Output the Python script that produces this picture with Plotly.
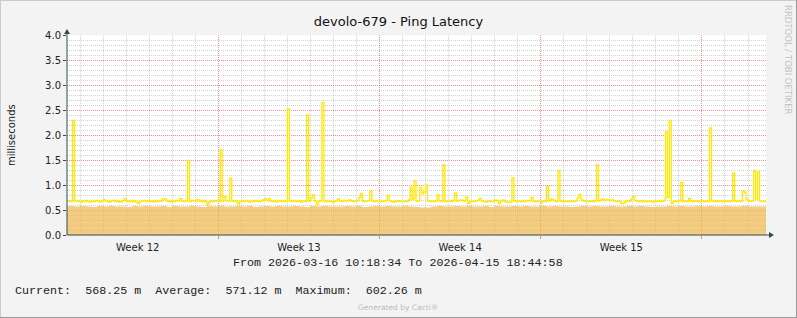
import plotly.graph_objects as go
import pandas as pd

# ---------------- data ----------------
TITLE = "devolo-679 - Ping Latency"
Y_TITLE = "milliseconds"
T_START = "2026-03-16 10:18:34"
T_END = "2026-04-15 18:44:58"
WEEK0 = "2026-03-16"          # Monday of ISO week 12

LINE_START = "2026-03-16 10:00"
LINE_STEP = "2h"
AREA_START = "2026-03-16 06:00"
AREA_STEP = "6h"

# yellow latency line, 2-hour samples, one row per day
lat_mar16 = [0.67, 0.68, 0.67, 2.29, 0.68, 0.69, 0.67]
lat_mar17 = [0.66, 0.68, 0.67, 0.69, 0.67, 0.66, 0.68, 0.67, 0.69, 0.68, 0.66, 0.68]
lat_mar18 = [0.71, 0.68, 0.67, 0.66, 0.68, 0.69, 0.67, 0.68, 0.66, 0.67, 0.69, 0.73]
lat_mar19 = [0.68, 0.67, 0.69, 0.67, 0.68, 0.66, 0.63, 0.67, 0.68, 0.69, 0.67, 0.68]
lat_mar20 = [0.67, 0.68, 0.66, 0.68, 0.67, 0.69, 0.68, 0.72, 0.72, 0.68, 0.67, 0.66]
lat_mar21 = [0.68, 0.67, 0.69, 0.68, 0.73, 0.68, 0.67, 0.68, 1.49, 0.67, 0.69, 0.68]
lat_mar22 = [0.68, 0.71, 0.68, 0.67, 0.69, 0.67, 0.61, 0.66, 0.68, 0.67, 0.69, 0.68]
lat_mar23 = [0.67, 1.70, 0.68, 0.77, 0.69, 0.68, 1.13, 0.68, 0.67, 0.68, 0.62, 0.67]
lat_mar24 = [0.68, 0.67, 0.69, 0.68, 0.66, 0.68, 0.67, 0.69, 0.68, 0.67, 0.68, 0.70]
lat_mar25 = [0.72, 0.69, 0.73, 0.68, 0.67, 0.68, 0.66, 0.68, 0.69, 0.67, 0.68, 0.67]
lat_mar26 = [2.52, 0.68, 0.67, 0.69, 0.68, 0.67, 0.68, 0.66, 0.68, 0.67, 2.40, 0.68]
lat_mar27 = [0.74, 0.80, 0.68, 0.61, 0.67, 0.68, 2.65, 0.68, 0.67, 0.68, 0.67, 0.66]
lat_mar28 = [0.67, 0.68, 0.72, 0.68, 0.67, 0.69, 0.68, 0.68, 0.70, 0.68, 0.67, 0.68]
lat_mar29 = [0.68, 0.74, 0.83, 0.68, 0.67, 0.68, 0.69, 0.88, 0.68, 0.67, 0.68, 0.67]
lat_mar30 = [0.68, 0.67, 0.68, 0.69, 0.79, 0.68, 0.67, 0.66, 0.68, 0.67, 0.68, 0.67]
lat_mar31 = [0.67, 0.68, 0.67, 0.70, 0.95, 0.72, 1.08, 0.68, 0.68, 0.95, 0.83, 0.86]
lat_apr01 = [1.00, 0.68, 0.67, 0.68, 0.67, 0.68, 0.80, 0.68, 0.67, 1.40, 0.67, 0.68]
lat_apr02 = [0.68, 0.67, 0.69, 0.84, 0.68, 0.69, 0.70, 0.69, 0.68, 0.76, 0.63, 0.67]
lat_apr03 = [0.68, 0.67, 0.68, 0.69, 0.73, 0.68, 0.67, 0.66, 0.67, 0.68, 0.67, 0.67]
lat_apr04 = [0.70, 0.68, 0.63, 0.68, 0.70, 0.67, 0.66, 0.65, 0.66, 1.14, 0.68, 0.67]
lat_apr05 = [0.68, 0.67, 0.68, 0.67, 0.68, 0.69, 0.68, 0.75, 0.68, 0.67, 0.68, 0.67]
lat_apr06 = [0.65, 0.68, 0.67, 0.97, 0.68, 0.72, 0.70, 0.68, 0.67, 1.29, 0.68, 0.67]
lat_apr07 = [0.68, 0.67, 0.68, 0.67, 0.68, 0.67, 0.68, 0.74, 0.81, 0.70, 0.68, 0.67]
lat_apr08 = [0.68, 0.67, 0.68, 0.67, 0.68, 1.40, 0.68, 0.70, 0.72, 0.69, 0.71, 0.70]
lat_apr09 = [0.69, 0.70, 0.68, 0.67, 0.68, 0.67, 0.63, 0.64, 0.68, 0.67, 0.68, 0.72]
lat_apr10 = [0.77, 0.69, 0.68, 0.67, 0.68, 0.67, 0.68, 0.67, 0.68, 0.67, 0.66, 0.68]
lat_apr11 = [0.67, 0.68, 0.67, 0.68, 0.69, 2.06, 0.75, 2.29, 0.63, 0.67, 0.68, 0.67]
lat_apr12 = [0.68, 1.05, 0.67, 0.68, 0.67, 0.73, 0.68, 0.67, 0.68, 0.67, 0.68, 0.67]
lat_apr13 = [0.68, 0.67, 0.68, 0.67, 2.14, 0.68, 0.67, 0.68, 0.67, 0.68, 0.67, 0.68]
lat_apr14 = [0.67, 0.68, 0.67, 0.68, 1.24, 0.68, 0.67, 0.68, 0.67, 0.88, 0.85, 0.72]
lat_apr15 = [0.68, 0.67, 0.68, 1.29, 0.72, 1.26, 0.68, 0.67, 0.68, 0.67, 0.68]

# orange area, 6-hour samples
area_values = [
    0.57, 0.58, 0.57,
    0.58, 0.57, 0.56, 0.58,
    0.57, 0.58, 0.57, 0.57,
    0.56, 0.58, 0.57, 0.58,
    0.57, 0.57, 0.58, 0.56,
    0.58, 0.57, 0.57, 0.58,
    0.57, 0.56, 0.58, 0.57,
    0.58, 0.57, 0.57, 0.58,
    0.57, 0.58, 0.56, 0.57,
    0.58, 0.57, 0.58, 0.57,
    0.57, 0.58, 0.57, 0.56,
    0.58, 0.57, 0.58, 0.57,
    0.57, 0.57, 0.58, 0.57,
    0.58, 0.56, 0.57, 0.58,
    0.57, 0.58, 0.57, 0.57,
    0.58, 0.57, 0.56, 0.55,
    0.55, 0.57, 0.58, 0.57,
    0.57, 0.58, 0.57, 0.58,
    0.57, 0.57, 0.58, 0.56,
    0.58, 0.57, 0.57, 0.58,
    0.57, 0.58, 0.57, 0.57,
    0.58, 0.57, 0.58, 0.57,
    0.57, 0.56, 0.57, 0.58,
    0.57, 0.58, 0.57, 0.57,
    0.58, 0.57, 0.57, 0.58,
    0.57, 0.58, 0.57, 0.56,
    0.57, 0.57, 0.58, 0.57,
    0.58, 0.57, 0.57, 0.58,
    0.57, 0.58, 0.57, 0.57,
    0.58, 0.57, 0.57, 0.58,
    0.57, 0.57, 0.57, 0.57,
    0.57,
]

STAT_CURRENT = "568.25 m"
STAT_AVERAGE = "571.12 m"
STAT_MAXIMUM = "602.26 m"
PERIOD_TEXT = "From 2026-03-16 10:18:34 To 2026-04-15 18:44:58"
FOOTER = "Generated by Cacti®"
WATERMARK = "RRDTOOL / TOBI OETIKER"

latency = (lat_mar16 + lat_mar17 + lat_mar18 + lat_mar19 + lat_mar20 + lat_mar21
           + lat_mar22 + lat_mar23 + lat_mar24 + lat_mar25 + lat_mar26 + lat_mar27
           + lat_mar28 + lat_mar29 + lat_mar30 + lat_mar31 + lat_apr01 + lat_apr02
           + lat_apr03 + lat_apr04 + lat_apr05 + lat_apr06 + lat_apr07 + lat_apr08
           + lat_apr09 + lat_apr10 + lat_apr11 + lat_apr12 + lat_apr13 + lat_apr14
           + lat_apr15)
lat_times = pd.date_range(LINE_START, periods=len(latency), freq=LINE_STEP)
area_times = pd.date_range(AREA_START, periods=len(area_values), freq=AREA_STEP)

# daily minor grid positions (midnights that are not week boundaries)
all_days = pd.date_range("2026-03-17", "2026-04-15", freq="D")
minor_days = [d for d in all_days if d.weekday() != 0]

# ---------------- layout geometry ----------------
W, H = 797, 318
L, R, T, B = 67, 766, 35, 235


def px(x):
    return (x - L) / (R - L)


def py(y):
    return (B - y) / (B - T)


AXIS_COL = "#2F4F4F"
MAJOR_GRID = "rgba(255,0,0,0.45)"
MINOR_GRID = "rgba(150,150,150,0.42)"
FONT = "DejaVu Sans"
MONO = "Liberation Mono"

fig = go.Figure()
fig.add_trace(go.Scatter(
    x=area_times, y=area_values, mode="lines", line=dict(width=0, shape="hv"),
    fill="tozeroy", fillcolor="rgba(236,182,74,0.7)", hoverinfo="skip",
    showlegend=False))
fig.add_trace(go.Scatter(
    x=lat_times, y=latency, mode="lines",
    line=dict(color="#FFE800", width=1.3, shape="hv"),
    showlegend=False))

shapes = [
    # outer frame
    dict(type="line", xref="paper", yref="paper", x0=px(0), x1=px(W), y0=py(0.5), y1=py(0.5),
         line=dict(color="#CBCBCB", width=1)),
    dict(type="line", xref="paper", yref="paper", x0=px(0.5), x1=px(0.5), y0=py(0), y1=py(H),
         line=dict(color="#CBCBCB", width=1)),
    dict(type="line", xref="paper", yref="paper", x0=px(0), x1=px(W), y0=py(H - 0.5), y1=py(H - 0.5),
         line=dict(color="#999999", width=1)),
    dict(type="line", xref="paper", yref="paper", x0=px(W - 0.5), x1=px(W - 0.5), y0=py(0), y1=py(H),
         line=dict(color="#999999", width=1)),
    # axes with arrows
    dict(type="line", xref="paper", yref="paper", x0=px(L), x1=px(770), y0=py(B), y1=py(B),
         line=dict(color=AXIS_COL, width=1), layer="above"),
    dict(type="line", xref="paper", yref="paper", x0=px(L), x1=px(L), y0=py(B), y1=py(32),
         line=dict(color=AXIS_COL, width=1), layer="above"),
    dict(type="path", xref="paper", yref="paper",
         path=f"M {px(769)},{py(232)} L {px(774)},{py(B)} L {px(769)},{py(238)} Z",
         fillcolor=AXIS_COL, line=dict(width=0), layer="above"),
    dict(type="path", xref="paper", yref="paper",
         path=f"M {px(64)},{py(34)} L {px(L)},{py(29)} L {px(70)},{py(34)} Z",
         fillcolor=AXIS_COL, line=dict(width=0), layer="above"),
]

nb = "\u00a0"
legend_text = (f"Current:{nb*2}{STAT_CURRENT.replace(' ', nb)}{nb*2}"
               f"Average:{nb*2}{STAT_AVERAGE.replace(' ', nb)}{nb*2}"
               f"Maximum:{nb*2}{STAT_MAXIMUM.replace(' ', nb)}")

annotations = [
    dict(text=Y_TITLE, xref="paper", yref="paper", x=px(11), y=py(135), textangle=-90,
         showarrow=False, xanchor="center", yanchor="middle",
         font=dict(family=FONT, size=10, color="#222")),
    dict(text=PERIOD_TEXT.replace(" ", nb), xref="paper", yref="paper", x=px(397.5), y=py(263),
         showarrow=False, xanchor="center", yanchor="middle",
         font=dict(family=MONO, size=11.7, color="#222")),
    dict(text=legend_text, xref="paper", yref="paper", x=px(13), y=py(291),
         showarrow=False, xanchor="left", yanchor="middle",
         font=dict(family=MONO, size=11.7, color="#222")),
    dict(text=FOOTER, xref="paper", yref="paper", x=px(398), y=py(307),
         showarrow=False, xanchor="center", yanchor="middle",
         font=dict(family=FONT, size=7.5, color="#BBBBBB")),
    dict(text=WATERMARK, xref="paper", yref="paper", x=px(788), y=py(60), textangle=90,
         showarrow=False, xanchor="center", yanchor="middle",
         font=dict(family=FONT, size=8.5, color="#C4C4C4")),
]

fig.update_layout(
    width=W, height=H, autosize=False,
    margin=dict(l=L, r=W - R, t=T, b=H - B, pad=0),
    paper_bgcolor="#F3F3F3", plot_bgcolor="#FFFFFF",
    title=dict(text=TITLE, x=0.5, xref="container", xanchor="center",
               y=1 - 21 / H, yref="container", yanchor="middle",
               font=dict(family=FONT, size=13, color="#111")),
    showlegend=False,
    shapes=shapes, annotations=annotations,
    xaxis=dict(
        type="date", range=[T_START, T_END], tick0=WEEK0, dtick=7 * 86400000,
        ticklabelmode="period", tickformat="Week %V",
        showgrid=True, gridcolor=MAJOR_GRID, griddash="1px,1px", gridwidth=1,
        minor=dict(tickmode="array", tickvals=minor_days, showgrid=True,
                   gridcolor=MINOR_GRID, griddash="1px,1px", gridwidth=1),
        ticks="outside", ticklen=3, tickcolor=MAJOR_GRID,
        tickfont=dict(family=FONT, size=10, color="#222"),
        showline=False, zeroline=False, fixedrange=True,
    ),
    yaxis=dict(
        range=[0, 4], tick0=0, dtick=0.5, tickformat=".1f",
        showgrid=True, gridcolor=MAJOR_GRID, griddash="1px,1px", gridwidth=1,
        minor=dict(dtick=0.1, showgrid=True, gridcolor=MINOR_GRID,
                   griddash="1px,1px", gridwidth=1),
        ticks="outside", ticklen=3, tickcolor=AXIS_COL,
        tickfont=dict(family=FONT, size=10, color="#222"),
        showline=False, zeroline=False, fixedrange=True,
    ),
)

fig.write_html("out.html")
